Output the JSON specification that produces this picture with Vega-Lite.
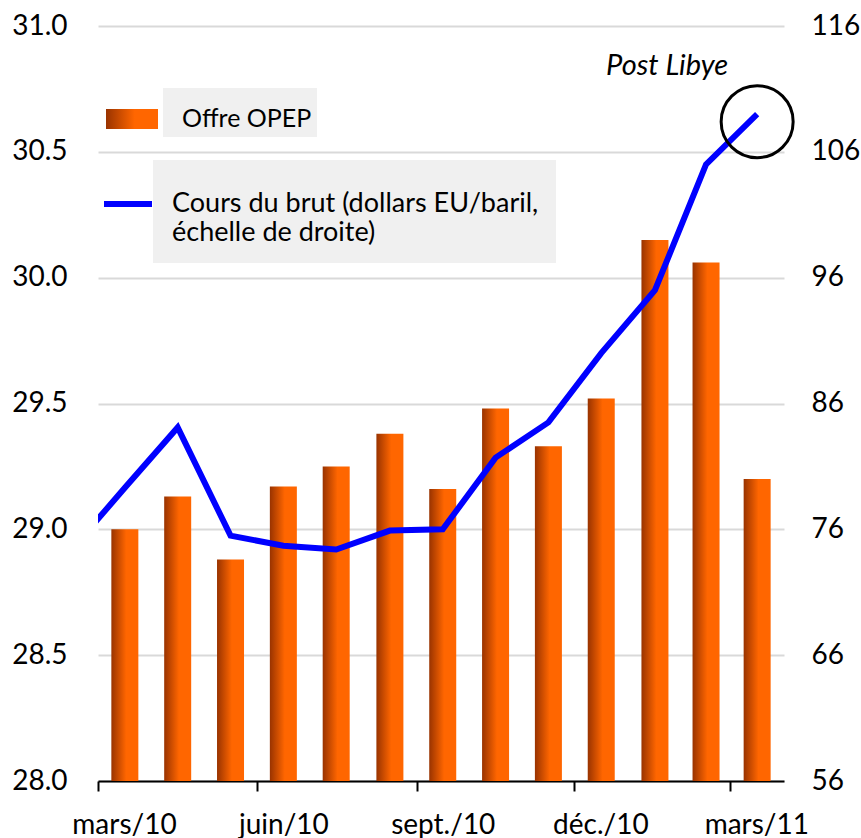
{
  "$schema": "https://vega.github.io/schema/vega-lite/v6.json",
  "autosize": {"type": "none"},
  "width": 686,
  "height": 755,
  "padding": {"left": 98, "top": 26, "right": 77, "bottom": 57},
  "background": "white",
  "title": {
    "text": "(millions de barils par jour)",
    "orient": "top",
    "anchor": "middle",
    "frame": "group",
    "offset": 10,
    "dx": -20,
    "baseline": "alphabetic",
    "font": "Lato",
    "fontSize": 26,
    "fontWeight": "normal",
    "color": "black"
  },
  "config": {
    "view": {"stroke": null},
    "font": "Lato"
  },
  "datasets": {
    "opep": [
      {"date": "2010-03-01", "offre": 29.00, "serie": "Offre OPEP"},
      {"date": "2010-04-01", "offre": 29.13, "serie": "Offre OPEP"},
      {"date": "2010-05-01", "offre": 28.88, "serie": "Offre OPEP"},
      {"date": "2010-06-01", "offre": 29.17, "serie": "Offre OPEP"},
      {"date": "2010-07-01", "offre": 29.25, "serie": "Offre OPEP"},
      {"date": "2010-08-01", "offre": 29.38, "serie": "Offre OPEP"},
      {"date": "2010-09-01", "offre": 29.16, "serie": "Offre OPEP"},
      {"date": "2010-10-01", "offre": 29.48, "serie": "Offre OPEP"},
      {"date": "2010-11-01", "offre": 29.33, "serie": "Offre OPEP"},
      {"date": "2010-12-01", "offre": 29.52, "serie": "Offre OPEP"},
      {"date": "2011-01-01", "offre": 30.15, "serie": "Offre OPEP"},
      {"date": "2011-02-01", "offre": 30.06, "serie": "Offre OPEP"},
      {"date": "2011-03-01", "offre": 29.20, "serie": "Offre OPEP"}
    ],
    "brut": [
      {"date": "2010-02-01", "cours": 74.6, "serie": "Cours du brut (dollars EU/baril, échelle de droite)"},
      {"date": "2010-03-01", "cours": 79.3, "serie": "Cours du brut (dollars EU/baril, échelle de droite)"},
      {"date": "2010-04-01", "cours": 84.1, "serie": "Cours du brut (dollars EU/baril, échelle de droite)"},
      {"date": "2010-05-01", "cours": 75.5, "serie": "Cours du brut (dollars EU/baril, échelle de droite)"},
      {"date": "2010-06-01", "cours": 74.7, "serie": "Cours du brut (dollars EU/baril, échelle de droite)"},
      {"date": "2010-07-01", "cours": 74.4, "serie": "Cours du brut (dollars EU/baril, échelle de droite)"},
      {"date": "2010-08-01", "cours": 75.9, "serie": "Cours du brut (dollars EU/baril, échelle de droite)"},
      {"date": "2010-09-01", "cours": 76.0, "serie": "Cours du brut (dollars EU/baril, échelle de droite)"},
      {"date": "2010-10-01", "cours": 81.7, "serie": "Cours du brut (dollars EU/baril, échelle de droite)"},
      {"date": "2010-11-01", "cours": 84.5, "serie": "Cours du brut (dollars EU/baril, échelle de droite)"},
      {"date": "2010-12-01", "cours": 90.0, "serie": "Cours du brut (dollars EU/baril, échelle de droite)"},
      {"date": "2011-01-01", "cours": 95.0, "serie": "Cours du brut (dollars EU/baril, échelle de droite)"},
      {"date": "2011-02-01", "cours": 105.0, "serie": "Cours du brut (dollars EU/baril, échelle de droite)"},
      {"date": "2011-03-01", "cours": 109.0, "serie": "Cours du brut (dollars EU/baril, échelle de droite)"}
    ],
    "annot": [
      {"date": "2011-03-01", "cercle": 108.4, "texte_y": 112.8, "texte": "Post Libye"}
    ]
  },
  "layer": [
    {
      "data": {"name": "opep"},
      "mark": {
        "type": "bar",
        "width": 27,
        "fill": {
          "gradient": "linear", "x1": 0, "y1": 0, "x2": 1, "y2": 0,
          "stops": [
            {"offset": 0, "color": "#993300"},
            {"offset": 0.55, "color": "#ff6600"},
            {"offset": 1, "color": "#ff6600"}
          ]
        }
      },
      "encoding": {
        "x": {
          "field": "date", "type": "temporal", "timeUnit": "utcyearmonth", "bandPosition": 0.5,
          "scale": {
            "domain": [
              {"year": 2010, "month": 3, "date": 1, "utc": true},
              {"year": 2011, "month": 4, "date": 1, "utc": true}
            ]
          },
          "axis": {
            "title": null,
            "values": [
              {"year": 2010, "month": 3, "date": 1, "utc": true},
              {"year": 2010, "month": 6, "date": 1, "utc": true},
              {"year": 2010, "month": 9, "date": 1, "utc": true},
              {"year": 2010, "month": 12, "date": 1, "utc": true},
              {"year": 2011, "month": 3, "date": 1, "utc": true}
            ],
            "labelExpr": "['janv.','févr.','mars','avr.','mai','juin','juil.','août','sept.','oct.','nov.','déc.'][utcmonth(datum.value)] + '/' + utcFormat(datum.value, '%y')",
            "labelOffset": 26,
            "labelFont": "Lato",
            "labelFontSize": 28,
            "labelColor": "black",
            "labelPadding": 20,
            "labelOverlap": false,
            "labelFlush": false,
            "labelBound": false,
            "domainColor": "black",
            "domainWidth": 2,
            "tickColor": "black",
            "tickWidth": 2,
            "tickSize": 10,
            "grid": false
          }
        },
        "y": {
          "field": "offre", "type": "quantitative",
          "scale": {"domain": [28, 31], "zero": false, "nice": false},
          "axis": {
            "title": null,
            "values": [28, 28.5, 29, 29.5, 30, 30.5, 31],
            "format": ".1f",
            "labelFont": "Lato",
            "labelFontSize": 28,
            "labelColor": "black",
            "labelPadding": 31,
            "domain": false,
            "ticks": false,
            "grid": true,
            "gridColor": "#d9d9d9",
            "gridWidth": 2
          }
        },
        "y2": {"datum": 28},
        "opacity": {
          "field": "serie", "type": "nominal",
          "scale": {"range": [1]},
          "legend": {
            "title": null,
            "orient": "none",
            "legendX": 65,
            "legendY": 62,
            "fillColor": "#f0f0f0",
            "padding": 5,
            "symbolType": "M-1,-0.385H1V0.385H-1Z",
            "symbolSize": 2704,
            "symbolFillColor": "#e65c00",
            "symbolStrokeWidth": 0,
            "symbolOffset": -62,
            "labelOffset": 24,
            "labelFont": "Lato",
            "labelFontSize": 25,
            "labelColor": "black",
            "labelLimit": 600
          }
        }
      }
    },
    {
      "data": {"name": "brut"},
      "mark": {"type": "line", "strokeWidth": 6, "clip": true, "strokeJoin": "miter"},
      "encoding": {
        "x": {"field": "date", "type": "temporal", "timeUnit": "utcyearmonth", "bandPosition": 0.5},
        "y": {
          "field": "cours", "type": "quantitative",
          "scale": {"domain": [56, 116], "zero": false, "nice": false},
          "axis": {
            "title": null,
            "orient": "right",
            "values": [56, 66, 76, 86, 96, 106, 116],
            "labelFont": "Lato",
            "labelFontSize": 28,
            "labelColor": "black",
            "labelPadding": 27,
            "domain": false,
            "ticks": false,
            "grid": false
          }
        },
        "stroke": {
          "field": "serie", "type": "nominal",
          "scale": {"range": ["#0000ff"]},
          "legend": {
            "title": null,
            "orient": "none",
            "legendX": 55,
            "legendY": 134,
            "fillColor": "#f0f0f0",
            "padding": 17,
            "symbolType": "stroke",
            "symbolSize": 2304,
            "symbolStrokeWidth": 6,
            "symbolOffset": -69,
            "labelOffset": 17,
            "labelExpr": "[substring(datum.label, 0, 32), substring(datum.label, 33)]",
            "labelFont": "Lato",
            "labelFontSize": 27,
            "labelColor": "black",
            "labelLimit": 600
          }
        }
      }
    },
    {
      "data": {"name": "annot"},
      "mark": {"type": "point", "shape": "circle", "size": 5184, "filled": false, "stroke": "black", "strokeWidth": 3, "opacity": 1},
      "encoding": {
        "x": {"field": "date", "type": "temporal", "timeUnit": "utcyearmonth", "bandPosition": 0.5},
        "y": {"field": "cercle", "type": "quantitative", "scale": {"domain": [56, 116]}, "axis": null}
      }
    },
    {
      "data": {"name": "annot"},
      "mark": {"type": "text", "font": "Lato", "fontSize": 29, "fontStyle": "italic", "color": "black", "dx": -90, "align": "center", "baseline": "middle"},
      "encoding": {
        "x": {"field": "date", "type": "temporal", "timeUnit": "utcyearmonth", "bandPosition": 0.5},
        "y": {"field": "texte_y", "type": "quantitative", "scale": {"domain": [56, 116]}, "axis": null},
        "text": {"field": "texte"}
      }
    }
  ],
  "resolve": {"scale": {"y": "independent"}}
}
